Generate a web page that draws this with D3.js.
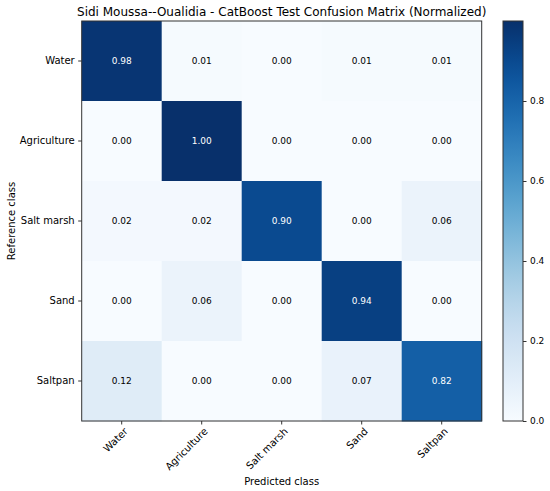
<!DOCTYPE html>
<html><head><meta charset="utf-8">
<script src="https://cdn.jsdelivr.net/npm/d3@7"></script>
<style>body{margin:0;background:#fff;} text{font-family:"DejaVu Sans",sans-serif;}</style>
</head><body>
<svg id="c" width="550" height="491"></svg>
<script>
const classes = ["Water","Agriculture","Salt marsh","Sand","Saltpan"];
const rowWater = [0.98,0.01,0.00,0.01,0.01];
const rowAgriculture = [0.00,1.00,0.00,0.00,0.00];
const rowSaltMarsh = [0.02,0.02,0.90,0.00,0.06];
const rowSand = [0.00,0.06,0.00,0.94,0.00];
const rowSaltpan = [0.12,0.00,0.00,0.07,0.82];
const matrix = [rowWater,rowAgriculture,rowSaltMarsh,rowSand,rowSaltpan];
const cbTicks = [0.0,0.2,0.4,0.6,0.8];

const svg = d3.select("#c");
const L=81.7, R=481.7, T=21, B=421;
const x = d3.scaleBand().domain(classes).range([L,R]);
const y = d3.scaleBand().domain(classes).range([T,B]);
const color = d3.scaleSequential(d3.interpolateBlues).domain([0,1]);

const cells=[];
matrix.forEach((row,i)=>row.forEach((v,j)=>cells.push({r:classes[i],c:classes[j],v})));
svg.append("g").selectAll("rect").data(cells).join("rect")
  .attr("x",d=>x(d.c)).attr("y",d=>y(d.r))
  .attr("width",x.bandwidth()+0.5).attr("height",y.bandwidth()+0.5)
  .attr("fill",d=>color(d.v));
svg.append("g").selectAll("text").data(cells).join("text")
  .attr("x",d=>x(d.c)+x.bandwidth()/2).attr("y",d=>y(d.r)+y.bandwidth()/2)
  .attr("text-anchor","middle").attr("dominant-baseline","central")
  .attr("font-size","9px")
  .attr("fill",d=>d.v>0.5?"#ffffff":"#000000")
  .text(d=>d.v.toFixed(2));

svg.append("rect").attr("x",L).attr("y",T).attr("width",R-L).attr("height",B-T)
  .attr("fill","none").attr("stroke","#333").attr("stroke-width",1);

const xa = svg.append("g").attr("transform",`translate(0,${B})`)
  .call(d3.axisBottom(x).tickSize(3.5).tickPadding(3.5));
xa.select(".domain").remove();
xa.selectAll("text").attr("font-size","10px").attr("fill","#000")
  .attr("text-anchor","end").attr("transform","rotate(-45)").attr("dx","-0.3em").attr("dy","0.55em");
xa.selectAll("line").attr("stroke","#333");

const ya = svg.append("g").attr("transform",`translate(${L},0)`)
  .call(d3.axisLeft(y).tickSize(3.5).tickPadding(3.5));
ya.select(".domain").remove();
ya.selectAll("text").attr("font-size","10px").attr("fill","#000");
ya.selectAll("line").attr("stroke","#333");

svg.append("text").attr("x",(L+R)/2).attr("y",15.8).attr("text-anchor","middle")
  .attr("font-size","12px").text("Sidi Moussa--Oualidia - CatBoost Test Confusion Matrix (Normalized)");
svg.append("text").attr("x",(L+R)/2).attr("y",485).attr("text-anchor","middle")
  .attr("font-size","10px").text("Predicted class");
svg.append("text").attr("transform",`translate(14.5,${(T+B)/2}) rotate(-90)`).attr("text-anchor","middle")
  .attr("font-size","10px").text("Reference class");

// colorbar
const cbL=503, cbW=20;
const cy = d3.scaleLinear().domain([0,1]).range([B,T]);
const defs = svg.append("defs");
const grad = defs.append("linearGradient").attr("id","g").attr("x1",0).attr("y1",1).attr("x2",0).attr("y2",0);
d3.range(0,1.0001,0.05).forEach(t=>grad.append("stop").attr("offset",t).attr("stop-color",color(t)));
svg.append("rect").attr("x",cbL).attr("y",T).attr("width",cbW).attr("height",B-T)
  .attr("fill","url(#g)").attr("stroke","#333").attr("stroke-width",1);
const ca = svg.append("g").attr("transform",`translate(${cbL+cbW},0)`)
  .call(d3.axisRight(cy).tickValues(cbTicks).tickFormat(d3.format(".1f")).tickSize(3.5).tickPadding(3.5));
ca.select(".domain").remove();
ca.selectAll("text").attr("font-size","9px").attr("fill","#000");
ca.selectAll("line").attr("stroke","#333");
</script>
</body></html>
